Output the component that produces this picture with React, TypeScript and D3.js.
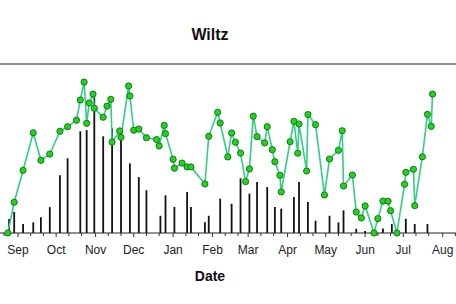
import React from "react";
import * as d3 from "d3";

const title = "Wiltz";
const xLabel = "Date";

const levelDates = [
  "2020-08-24","2020-08-29","2020-09-05","2020-09-13","2020-09-19","2020-09-26",
  "2020-10-04","2020-10-10","2020-10-17","2020-10-20","2020-10-23","2020-10-25",
  "2020-10-27","2020-10-30","2020-10-31","2020-11-07","2020-11-10","2020-11-13",
  "2020-11-14","2020-11-20","2020-11-21","2020-11-27","2020-11-28","2020-12-01",
  "2020-12-05","2020-12-11","2020-12-19","2020-12-21","2020-12-25","2020-12-26",
  "2021-01-01","2021-01-02","2021-01-08","2021-01-12","2021-01-15","2021-01-26",
  "2021-01-29","2021-02-05","2021-02-07","2021-02-13","2021-02-16","2021-02-19",
  "2021-02-23","2021-02-27","2021-03-02","2021-03-05","2021-03-08","2021-03-14",
  "2021-03-16","2021-03-20","2021-03-22","2021-03-26","2021-03-27","2021-04-03",
  "2021-04-06","2021-04-09","2021-04-10","2021-04-16","2021-04-17","2021-04-23",
  "2021-04-30","2021-05-04","2021-05-11","2021-05-14","2021-05-15","2021-05-22",
  "2021-05-25","2021-05-29","2021-06-01","2021-06-08","2021-06-11","2021-06-15",
  "2021-06-19","2021-06-21","2021-06-26","2021-07-02","2021-07-03","2021-07-09",
  "2021-07-10","2021-07-16","2021-07-20","2021-07-23","2021-07-24",
];
const levelValues = [
  0, 18.2, 37.1, 59.3, 43.0, 46.7,
  60.2, 62.9, 66.7, 78.7, 89.3, 64.9,
  76.9, 82.2, 73.8, 68.5, 75.1, 79.1,
  53.8, 60.4, 56.6, 87.0, 81.1, 60.8,
  61.5, 56.4, 55.3, 51.5, 63.7, 58.8,
  43.6, 38.3, 41.4, 39.1, 39.1, 29.0,
  57.2, 71.4, 65.1, 45.0, 59.2, 53.7,
  47.3, 30.4, 37.9, 69.1, 57.0, 53.3,
  62.9, 49.3, 42.2, 34.1, 24.3, 54.0,
  66.1, 47.2, 64.5, 36.7, 70.1, 64.1,
  22.5, 43.8, 48.9, 60.5, 27.8, 34.3,
  12.4, 8.9, 16.0, 0, 8.5, 18.9,
  18.8, 13.2, 0, 28.8, 35.9, 37.7,
  16.2, 45.1, 70.2, 63.1, 82.2,
];

const barDates = [
  "2020-08-25","2020-08-29","2020-09-05","2020-09-13","2020-09-19","2020-09-26",
  "2020-10-04","2020-10-10","2020-10-20","2020-10-25","2020-10-31","2020-11-07",
  "2020-11-14","2020-11-21","2020-11-28","2020-12-05","2020-12-11","2020-12-22",
  "2020-12-26","2021-01-02","2021-01-12","2021-01-15","2021-01-26","2021-01-29",
  "2021-02-07","2021-02-16","2021-02-23","2021-03-02","2021-03-08","2021-03-16",
  "2021-03-22","2021-03-27","2021-04-06","2021-04-10","2021-04-17","2021-04-23",
  "2021-05-04","2021-05-11","2021-05-15","2021-05-25","2021-06-01","2021-06-15",
  "2021-06-22","2021-07-03","2021-07-10","2021-07-20",
];
const barValues = [
  8.3, 12.4, 5.3, 6.3, 9.3, 15.3,
  34.1, 44.2, 60.2, 60.9, 80.3, 57.2,
  62.0, 56.0, 41.2, 33.1, 25.3, 10.2,
  22.3, 15.4, 24.3, 15.4, 6.3, 10.2,
  20.3, 17.3, 32.4, 23.3, 30.2, 27.2,
  15.4, 14.4, 21.3, 30.2, 18.3, 7.3,
  10.2, 6.3, 13.4, 2.5, 1.2, 2.7,
  5.3, 8.4, 5.3, 5.3,
];

const monthLabels = ["Sep","Oct","Nov","Dec","Jan","Feb","Mar","Apr","May","Jun","Jul","Aug"];
const monthStarts = [
  "2020-09-01","2020-10-01","2020-11-01","2020-12-01","2021-01-01","2021-02-01",
  "2021-03-01","2021-04-01","2021-05-01","2021-06-01","2021-07-01","2021-08-01",
];

const W = 456;
const H = 304;

export default function App() {
  const parse = d3.utcParse("%Y-%m-%d");
  const x = d3
    .scaleUtc()
    .domain([parse("2020-09-01")!, parse("2021-08-01")!])
    .range([18, 442.7]);
  const y = d3.scaleLinear().domain([0, 100]).range([233, 64]);

  const pts = levelDates.map((d, i) => ({ t: parse(d)!, v: levelValues[i] }));
  const bars = barDates.map((d, i) => ({ t: parse(d)!, v: barValues[i] }));

  const line = d3
    .line<{ t: Date; v: number }>()
    .x((d) => x(d.t))
    .y((d) => y(d.v));

  const [x0, x1] = [x.invert(0), x.invert(W)];
  const minorTicks = d3.utcDay
    .range(x0, x1)
    .filter((d) => [1, 11, 21].includes(d.getUTCDate()));

  const font = "'Liberation Sans', Arial, sans-serif";

  return (
    <svg
      width={W}
      height={H}
      style={{ position: "absolute", left: 0, top: 0, background: "#fff" }}
      fontFamily={font}
    >
      <rect x={0} y={0} width={W} height={H} fill="#fff" />
      <text x={210} y={40} textAnchor="middle" fontWeight="bold" fontSize={16} fill="#111">
        {title}
      </text>
      <line x1={0} x2={W} y1={y(100)} y2={y(100)} stroke="#666" strokeWidth={1.5} />
      {bars.map((b, i) => (
        <line
          key={"b" + i}
          x1={x(b.t)}
          x2={x(b.t)}
          y1={y(0)}
          y2={y(b.v)}
          stroke="#111"
          strokeWidth={1.8}
        />
      ))}
      <line x1={0} x2={W} y1={y(0)} y2={y(0)} stroke="#222" strokeWidth={1} />
      {minorTicks.map((t, i) => (
        <line
          key={"t" + i}
          x1={x(t)}
          x2={x(t)}
          y1={y(0)}
          y2={y(0) + (t.getUTCDate() === 1 ? 4 : 3)}
          stroke="#333"
          strokeWidth={1}
        />
      ))}
      <path d={line(pts) ?? ""} fill="none" stroke="#2fd080" strokeWidth={1.6} />
      {pts.map((p, i) => (
        <circle
          key={"p" + i}
          cx={x(p.t)}
          cy={y(p.v)}
          r={3.1}
          fill="#22d422"
          stroke="#0d6b0d"
          strokeWidth={0.9}
        />
      ))}
      {monthStarts.map((m, i) => (
        <text
          key={"m" + i}
          x={x(parse(m)!)}
          y={254}
          textAnchor="middle"
          fontSize={12}
          fill="#222"
        >
          {monthLabels[i]}
        </text>
      ))}
      <text x={210} y={281} textAnchor="middle" fontWeight="bold" fontSize={14} fill="#111">
        {xLabel}
      </text>
    </svg>
  );
}
